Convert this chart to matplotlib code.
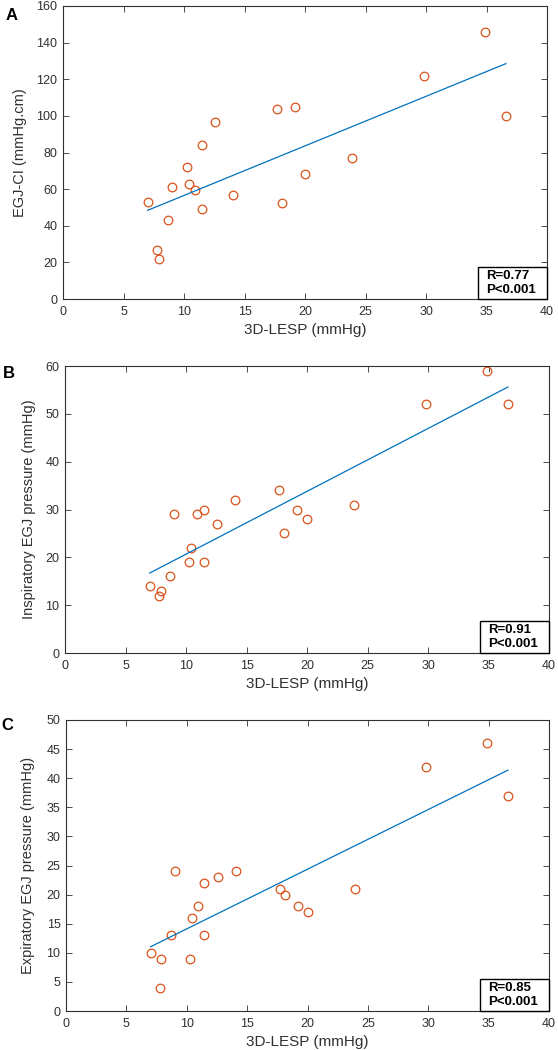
import numpy as np
import matplotlib
matplotlib.use("Agg")
import matplotlib.pyplot as plt
from matplotlib.patches import Rectangle

plt.rcParams['font.family'] = ['Liberation Sans', 'DejaVu Sans']

# 3D-LESP (mmHg), shared by all panels
lesp = [7.0, 7.8, 7.9, 8.7, 9.0, 10.25, 10.4, 10.9, 11.45, 11.45,
        12.6, 14.05, 17.7, 18.1, 19.2, 20.0, 23.9, 29.8, 34.9, 36.6]
# Panel A: EGJ-CI (mmHg.cm)
egj_ci = [53, 26.5, 22, 43, 61.3, 72, 63, 59.5, 84, 49,
          96.5, 57, 103.5, 52.4, 105, 68, 77, 122, 145.6, 100]
# Panel B: inspiratory EGJ pressure (mmHg)
insp = [14, 12, 13, 16, 29, 19, 22, 29, 30, 19,
        27, 32, 34, 25, 30, 28, 31, 52, 59, 52]
# Panel C: expiratory EGJ pressure (mmHg)
expi = [10, 4, 9, 13, 24, 9, 16, 18, 22, 13,
        23, 24, 21, 20, 18, 17, 21, 42, 46, 37]

panels = ["A", "B", "C"]
ylabels = ["EGJ-CI (mmHg.cm)", "Inspiratory EGJ pressure (mmHg)",
           "Expiratory EGJ pressure (mmHg)"]
stats = ["R=0.77\nP<0.001", "R=0.91\nP<0.001", "R=0.85\nP<0.001"]
yticks = [np.arange(0, 161, 20), np.arange(0, 61, 10), np.arange(0, 51, 5)]
xticks = np.arange(0, 41, 5)
xlabel = "3D-LESP (mmHg)"

W, H = 558, 1050
fig = plt.figure(figsize=(W / 100, H / 100), dpi=100)

# (left, right, top, bottom) in pixels
boxes = [(63, 547, 6, 299), (65, 549, 366, 653), (66, 549, 720, 1011)]
ylab_x = [20, 29, 28]
letter_pos = [(12, 15), (9, 373), (7, 726)]

gray = '#303030'
mcol = '#D95319'
lcol = '#0072BD'

x = np.array(lesp)
for i, yv in enumerate([egj_ci, insp, expi]):
    l, r, t, b = boxes[i]
    aw, ah = r - l, b - t
    ax = fig.add_axes([l / W, 1 - b / H, aw / W, ah / H])
    y = np.array(yv)
    ax.plot(x, y, 'o', mfc='none', mec=mcol, ms=6.2, mew=0.9)
    k, c = np.polyfit(x, y, 1)
    xs = np.array([x.min(), x.max()])
    ax.plot(xs, k * xs + c, '-', color=lcol, lw=0.9)
    ax.set_xlim(0, 40)
    ax.set_ylim(yticks[i][0], yticks[i][-1])
    ax.set_xticks(xticks)
    ax.set_yticks(yticks[i])
    ax.tick_params(direction='in', top=True, right=True, length=4,
                   width=0.6, colors=gray, labelsize=9)
    ax.tick_params(axis='x', pad=5)
    ax.tick_params(axis='y', pad=4)
    for s in ax.spines.values():
        s.set_color(gray)
        s.set_linewidth(0.8)
    ax.set_xlabel(xlabel, fontsize=11, color=gray)
    ax.xaxis.label.set_va('center')
    ax.xaxis.set_label_coords(0.5, -31 / ah)
    ax.set_ylabel(ylabels[i], fontsize=10.5, color=gray)
    ax.yaxis.label.set_va('center')
    ax.yaxis.set_label_coords((ylab_x[i] - l) / aw, 0.5)
    # statistics box at lower right corner
    bw, bh = 69 / aw, 32 / ah
    ax.add_patch(Rectangle((1 - bw, 0), bw, bh, transform=ax.transAxes,
                           facecolor='white', edgecolor='black', lw=1.0,
                           zorder=5, clip_on=False))
    ax.text(1 - bw + 8.5 / aw, bh / 2, stats[i], transform=ax.transAxes,
            ha='left', va='center', fontsize=9.5, fontweight='bold',
            linespacing=1.2, zorder=6)
    lx, ly = letter_pos[i]
    fig.text(lx / W, 1 - ly / H, panels[i], fontsize=12, fontweight='bold',
             ha='center', va='center')

fig.savefig('out.png', dpi=100)
